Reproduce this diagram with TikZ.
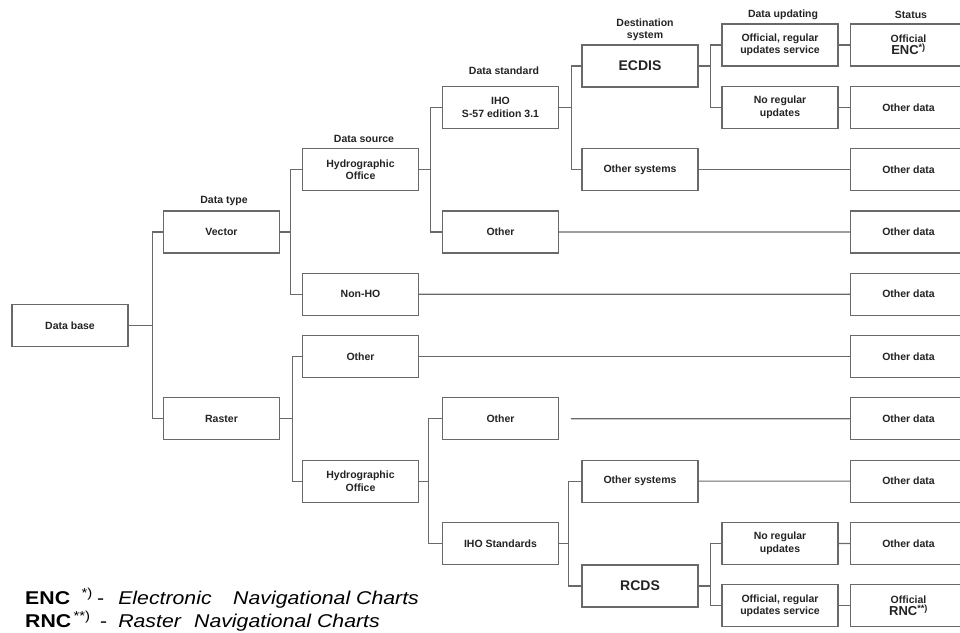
\documentclass[tikz,border=0pt]{standalone}
\usepackage{fontspec}
\setmainfont{Liberation Sans}
\usepackage{tikz}
\definecolor{linegray}{RGB}{105,105,105}
\definecolor{txtgray}{RGB}{35,35,35}

\begin{document}
\begin{tikzpicture}[x=1pt, y=-1pt,
    box/.style={draw=linegray, line width=1.2pt, minimum width=116pt,
        minimum height=42pt, inner sep=1pt, align=center, text=txtgray,
        font=\fontsize{10.5}{12.5}\selectfont\bfseries},
    head/.style={align=center, text=txtgray,
        font=\fontsize{10.5}{12}\selectfont\bfseries},
    wire/.style={draw=linegray, line width=1.2pt},
    legend/.style={anchor=base west, inner sep=0pt, xscale=1.15,
        font=\fontsize{18.5}{20}\selectfont}]
    \clip (0,0) rectangle (960,632);

    \node[box] (base) at (70,325.5) {Data base};
    \node[box] (vec) at (221.5,231.9) {Vector};
    \node[box] (ras) at (221.5,418.8) {Raster};

    \node[box] (ho1) at (360.5,169.6) {Hydrographic\\Office};
    \node[box] (nonho) at (360.5,294.2) {Non-HO};
    \node[box] (oth2) at (360.5,356.5) {Other};
    \node[box] (ho2) at (360.5,481.1) {Hydrographic\\Office};

    \node[box] (iho) at (500.5,107.3) {IHO\\S-57 edition 3.1};
    \node[box] (oth3) at (500.5,231.9) {Other};
    \node[box] (oth3r) at (500.5,418.8) {Other};
    \node[box] (ihostd) at (500.5,543.4) {IHO Standards};

    \node[box, font=\fontsize{14}{16}\selectfont\bfseries] (ecdis) at (640,66) {ECDIS};
    \node[box] (sys1) at (640,169.6) {Other systems};
    \node[box] (sys2) at (640,481.1) {Other systems};
    \node[box, font=\fontsize{14}{16}\selectfont\bfseries] (rcds) at (640,586) {RCDS};

    \node[box] (upd1) at (780,45) {Official, regular\\updates service};
    \node[box] (noupd1) at (780,107.3) {No regular\\updates};
    \node[box] (noupd2) at (780,543.4) {No regular\\updates};
    \node[box] (upd2) at (780,605.7) {Official, regular\\updates service};

    \node[box] (s0) at (908.5,45) {Official\\{\fontsize{13}{14}\selectfont ENC\textsuperscript{*)}}};
    \foreach \i in {1,...,8}
        \node[box] (s\i) at (908.5,{45+62.3*\i}) {Other data};
    \node[box] (s9) at (908.5,605.7) {Official\\{\fontsize{13}{14}\selectfont RNC\textsuperscript{**)}}};

    \node[head] at (224,201) {Data type};
    \node[head] at (364,139) {Data source};
    \node[head] at (504,71) {Data standard};
    \node[head] at (645,30) {Destination\\system};
    \node[head] at (783,15) {Data updating};
    \node[head] at (911,15) {Status};

    \draw[wire] (base.east) -- ++(24,0) coordinate (k0);
    \draw[wire] (vec.west) -| (k0) |- (ras.west);
    \draw[wire] (vec.east) -- ++(10.5,0) coordinate (k1);
    \draw[wire] (ho1.west) -| (k1) |- (nonho.west);
    \draw[wire] (ras.east) -- ++(12.5,0) coordinate (k2);
    \draw[wire] (oth2.west) -| (k2) |- (ho2.west);
    \draw[wire] (ho1.east) -- ++(11.5,0) coordinate (k3);
    \draw[wire] (iho.west) -| (k3) |- (oth3.west);
    \draw[wire] (ho2.east) -- ++(9.5,0) coordinate (k4);
    \draw[wire] (oth3r.west) -| (k4) |- (ihostd.west);
    \draw[wire] (iho.east) -- ++(12.5,0) coordinate (k5);
    \draw[wire] (ecdis.west) -| (k5) |- (sys1.west);
    \draw[wire] (ihostd.east) -- ++(9.5,0) coordinate (k6);
    \draw[wire] (sys2.west) -| (k6) |- (rcds.west);
    \draw[wire] (ecdis.east) -- ++(12,0) coordinate (k7);
    \draw[wire] (upd1.west) -| (k7) |- (noupd1.west);
    \draw[wire] (rcds.east) -- ++(12,0) coordinate (k8);
    \draw[wire] (noupd2.west) -| (k8) |- (upd2.west);

    \draw[wire] (upd1) -- (s0);
    \draw[wire] (noupd1) -- (s1);
    \draw[wire] (sys1) -- (s2);
    \draw[wire] (oth3) -- (s3);
    \draw[wire] (nonho) -- (s4);
    \draw[wire] (oth2) -- (s5);
    \draw[wire] ([xshift=12pt]oth3r.east) -- (s6.west);
    \draw[wire] (sys2) -- (s7);
    \draw[wire] (noupd2) -- (s8);
    \draw[wire] (upd2) -- (s9);

    \node[legend] (leg1) at (25,604)
        {\makebox[62.6pt][l]{\textbf{ENC}\hspace{10pt}\textsuperscript{*)}}\makebox[18.3pt][l]{-}\makebox[100pt][l]{\textit{Electronic}}\textit{Navigational Charts}};
    \node[legend] (leg2) at (25,627)
        {\makebox[65.2pt][l]{\textbf{RNC}\hspace{2pt}\textsuperscript{**)}}\makebox[15.7pt][l]{-}\makebox[66pt][l]{\textit{Raster}}\textit{Navigational Charts}};
\end{tikzpicture}
\end{document}
